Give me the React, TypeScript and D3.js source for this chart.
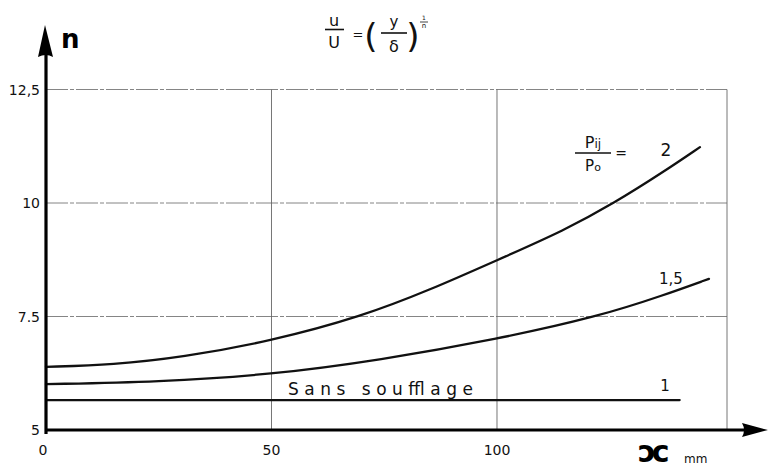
import React from "react";
import * as d3 from "d3";

// Distance along the plate (mm) and exponent n of the velocity profile u/U = (y/δ)^(1/n)
const ratioLabels = ["2", "1,5", "1"];
const xCurve2 = [0, 15, 30, 50, 70, 85, 100, 115, 126, 137, 145];
const nCurve2 = [6.39, 6.44, 6.6, 6.96, 7.5, 8.08, 8.74, 9.4, 10.0, 10.69, 11.23];
const xCurve15 = [0, 25, 50, 74, 100, 122.5, 137, 147];
const nCurve15 = [6.01, 6.06, 6.22, 6.54, 7.0, 7.5, 7.97, 8.33];
const xCurve1 = [0, 140.5];
const nCurve1 = [5.66, 5.66];

const xTicks = [0, 50, 100];
const xTickLabels = ["0", "50", "100"];
const yTicks = [5, 7.5, 10, 12.5];
const yTickLabels = ["5", "7.5", "10", "12,5"];
const xGrid = [50, 100, 151];
const yGrid = [7.5, 10, 12.5];

const W = 768;
const H = 468;
const FONT = "'DejaVu Sans', sans-serif";

export default function App() {
  const x = d3.scaleLinear().domain([0, 151]).range([46, 727]);
  const y = d3.scaleLinear().domain([5, 12.5]).range([430, 89.5]);

  const line = d3
    .line<[number, number]>()
    .x((d) => x(d[0]))
    .y((d) => y(d[1]))
    .curve(d3.curveBasis);

  const series = [
    { xs: xCurve2, ns: nCurve2 },
    { xs: xCurve15, ns: nCurve15 },
    { xs: xCurve1, ns: nCurve1 },
  ];

  const x0 = x(0);
  const y0 = y(5);
  const xMax = x(151);
  const yTop = y(12.5);

  return (
    <svg
      width={W}
      height={H}
      viewBox={`0 0 ${W} ${H}`}
      style={{ position: "absolute", left: 0, top: 0, background: "#fff" }}
    >
      {/* grid */}
      {yGrid.map((v) => (
        <line
          key={"h" + v}
          x1={x0}
          x2={xMax}
          y1={y(v)}
          y2={y(v)}
          stroke="#777"
          strokeWidth={0.9}
          strokeDasharray="22 2 4 2"
        />
      ))}
      {xGrid.map((v) => (
        <line
          key={"v" + v}
          x1={x(v)}
          x2={x(v)}
          y1={yTop}
          y2={y0}
          stroke="#666"
          strokeWidth={0.9}
        />
      ))}

      {/* curves */}
      {series.map((s, i) => (
        <path
          key={i}
          d={line(s.xs.map((v, j) => [v, s.ns[j]] as [number, number])) || ""}
          fill="none"
          stroke="#111"
          strokeWidth={2.3}
          strokeLinecap="round"
        />
      ))}

      {/* axes */}
      <line x1={x0} x2={750} y1={y0} y2={y0} stroke="#000" strokeWidth={3.2} />
      <path
        d={`M742,${y0 - 7} L768,${y0} L742,${y0 + 7} Q746,${y0} 742,${y0 - 7} Z`}
        fill="#000"
      />
      <line x1={x0} x2={x0} y1={y0 + 4} y2={50} stroke="#000" strokeWidth={3.2} />
      <path
        d={`M${x0 - 8},57 L${x0 - 1},25 L${x0 + 7},57 Q${x0},53 ${x0 - 8},57 Z`}
        fill="#000"
      />

      {/* tick labels */}
      <g fontFamily={FONT} fontSize={14} fill="#111">
        {yTicks.map((v, i) => (
          <text key={"yt" + v} x={40} y={y(v) + 5} textAnchor="end">
            {yTickLabels[i]}
          </text>
        ))}
        {xTicks.map((v, i) => (
          <text key={"xt" + v} x={x(v) - (v === 0 ? 3 : 0)} y={455} textAnchor="middle">
            {xTickLabels[i]}
          </text>
        ))}
      </g>

      {/* axis titles */}
      <text x={61} y={48} fontFamily={FONT} fontSize={26} fontWeight="bold" fill="#000">
        n
      </text>
      <text
        x={638}
        y={462}
        fontFamily={FONT}
        fontSize={30}
        fontWeight="bold"
        fill="#000"
        letterSpacing={-4}
      >
        ɔc
      </text>
      <text x={684} y={463} fontFamily={FONT} fontSize={12} fill="#111">
        mm
      </text>

      {/* formula */}
      <g fontFamily={FONT} fill="#111" stroke="none">
        <text x={334} y={26} fontSize={16} textAnchor="middle">u</text>
        <line x1={325} x2={344} y1={29.5} y2={29.5} stroke="#111" strokeWidth={1.6} />
        <text x={334} y={48} fontSize={16} textAnchor="middle">U</text>
        <text x={358} y={39} fontSize={13} textAnchor="middle">=</text>
        <text x={371} y={48} fontSize={34} textAnchor="middle">(</text>
        <text x={394} y={27} fontSize={15} textAnchor="middle">y</text>
        <line x1={381} x2={407} y1={33} y2={33} stroke="#111" strokeWidth={1.6} />
        <text x={394} y={52} fontSize={16} textAnchor="middle">δ</text>
        <text x={413} y={48} fontSize={34} textAnchor="middle">)</text>
        <text x={424} y={20} fontSize={6} textAnchor="middle">1</text>
        <line x1={420} x2={428} y1={22} y2={22} stroke="#111" strokeWidth={0.8} />
        <text x={424} y={28} fontSize={7} textAnchor="middle">n</text>
      </g>

      {/* series legend */}
      <g fontFamily={FONT} fill="#111">
        <text x={593} y={148} fontSize={16} textAnchor="middle">P<tspan fontSize={12}>ij</tspan></text>
        <line x1={575} x2={611} y1={153} y2={153} stroke="#111" strokeWidth={1.5} />
        <text x={593} y={171} fontSize={15} textAnchor="middle">P<tspan fontSize={11}>o</tspan></text>
        <text x={621} y={158} fontSize={14} textAnchor="middle">=</text>
        <text x={666} y={156} fontSize={17} textAnchor="middle">{ratioLabels[0]}</text>
        <text x={671} y={284} fontSize={15} textAnchor="middle">{ratioLabels[1]}</text>
        <text x={665} y={391} fontSize={15} textAnchor="middle">{ratioLabels[2]}</text>
        <text
          x={288}
          y={395}
          fontSize={17}
          textLength={185}
          lengthAdjust="spacing"
        >
          Sans soufflage
        </text>
      </g>
    </svg>
  );
}
